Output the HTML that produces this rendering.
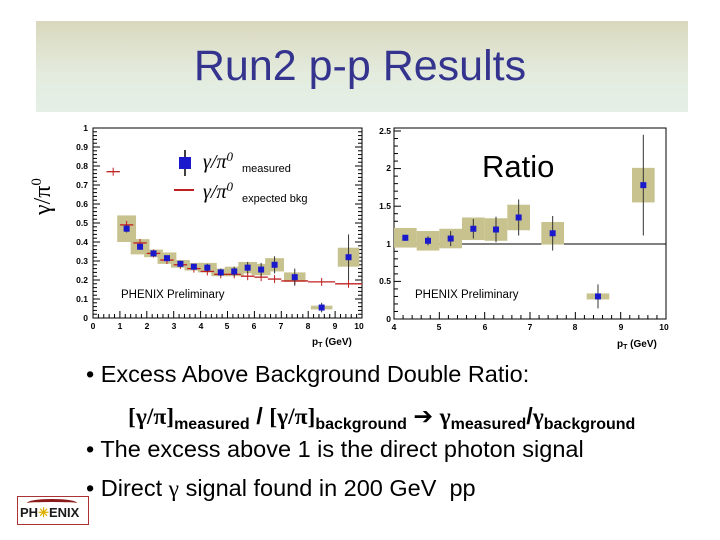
<!DOCTYPE html>
<html><head><meta charset="utf-8"><style>
body{margin:0;width:720px;height:540px;background:#fff;position:relative;overflow:hidden;font-family:"Liberation Sans",sans-serif}
.band{position:absolute;left:36px;top:21px;width:652px;height:91px;background:linear-gradient(#d9d8bd,#e4ecdf 60%,#e5efe6)}
.title{position:absolute;left:0;width:720px;top:42px;text-align:center;font-size:43px;color:#34348f}
.t{position:absolute;font-size:23.5px;line-height:27px;color:#000;white-space:nowrap}
.s{font-size:16px;font-weight:bold;vertical-align:-5px}
.g{font-family:'Liberation Serif',serif;font-weight:bold}
</style></head><body>
<div class="band"></div>
<div class="title">Run2 p-p Results</div>
<svg id="g" width="720" height="540" style="position:absolute;left:0;top:0" font-family="Liberation Sans, sans-serif">
<g font-size="8.5" font-weight="bold" text-anchor="end">
<text x="88" y="131">1</text><text x="88" y="169">0.8</text><text x="88" y="207">0.6</text><text x="88" y="245">0.4</text><text x="88" y="283">0.2</text><text x="88" y="321">0</text>
<text x="88" y="150">0.9</text><text x="88" y="188">0.7</text><text x="88" y="226">0.5</text><text x="88" y="264">0.3</text><text x="88" y="302">0.1</text>
</g>
<g font-size="8.5" font-weight="bold" text-anchor="middle">
<text x="93" y="329">0</text><text x="120" y="329">1</text><text x="147" y="329">2</text><text x="174" y="329">3</text><text x="201" y="329">4</text><text x="227" y="329">5</text><text x="254" y="329">6</text><text x="281" y="329">7</text><text x="308" y="329">8</text><text x="335" y="329">9</text><text x="359" y="329">10</text>
<text x="394" y="330">4</text><text x="439" y="330">5</text><text x="485" y="330">6</text><text x="530" y="330">7</text><text x="575" y="330">8</text><text x="621" y="330">9</text><text x="664" y="330">10</text>
</g>
<g font-size="8.5" font-weight="bold" text-anchor="end">
<text x="391" y="134">2.5</text><text x="391" y="171">2</text><text x="391" y="209">1.5</text><text x="391" y="247">1</text><text x="391" y="284">0.5</text><text x="391" y="322">0</text>
</g>
<text x="312" y="345" font-size="10" font-weight="bold">p<tspan font-size="7" dy="2">T</tspan><tspan dy="-2"> (GeV)</tspan></text>
<text x="617" y="347" font-size="10" font-weight="bold">p<tspan font-size="7" dy="2">T</tspan><tspan dy="-2"> (GeV)</tspan></text>
<text transform="translate(50,215) rotate(-90)" font-family="Liberation Serif, serif" font-size="24">γ/π<tspan font-size="15" dy="-9">0</tspan></text>
<text x="203" y="168" font-family="Liberation Serif, serif" font-style="italic" font-size="20">γ/π<tspan font-size="13" dy="-7">0</tspan></text>
<text x="242" y="172" font-size="11">measured</text>
<text x="203" y="198" font-family="Liberation Serif, serif" font-style="italic" font-size="20">γ/π<tspan font-size="13" dy="-7">0</tspan></text>
<text x="242" y="202" font-size="11">expected bkg</text>
<text x="482" y="177" font-size="31">Ratio</text>
<text x="121" y="298" font-size="11.5">PHENIX Preliminary</text>
<text x="415" y="298" font-size="11.5">PHENIX Preliminary</text>
<g id="shapes"></g>
</svg>
<div class="t" style="left:86px;top:361px">• Excess Above Background Double Ratio:</div>
<div class="t" style="left:128px;top:403px"><span class="g">[γ/π]</span><span class="s">measured</span> <b>/</b> <span class="g">[γ/π]</span><span class="s">background</span> ➔ <span class="g">γ</span><span class="s">measured</span><b>/</b><span class="g">γ</span><span class="s">background</span></div>
<div class="t" style="left:86px;top:436px">• The excess above 1 is the direct photon signal</div>
<div class="t" style="left:86px;top:475px">• Direct <span style="font-family:'Liberation Serif',serif">γ</span> signal found in 200 GeV&nbsp; pp</div>
<div style="position:absolute;left:17px;top:496px;width:70px;height:27px;border:1px solid #a33;background:#fff"></div>
<div style="position:absolute;left:27px;top:499px;width:50px;height:5px;border-top:3px solid #8b1a1a;border-radius:50% 50% 0 0"></div>
<div style="position:absolute;left:20px;top:505px;font:bold 13px 'Liberation Sans',sans-serif;color:#1a1a1a">PH<span style="color:#e0b000">✳</span>ENIX</div>
<script>
var s='';
function r(x,y,w,h,f,st){s+='<rect x="'+x+'" y="'+y+'" width="'+w+'" height="'+h+'" fill="'+f+'"'+(st?' stroke="#000" stroke-width="1"':'')+'/>';}
function l(a,b,c,d,col,w){s+='<line x1="'+a+'" y1="'+b+'" x2="'+c+'" y2="'+d+'" stroke="'+col+'" stroke-width="'+(w||1)+'"/>';}
r(93,128,269,190,'none',1);r(394,128,272,191,'none',1);
for(var i=0;i<=50;i++){var y=318-i*3.8,L=i%5==0?7:4;l(93,y,93+L,y,'#000');l(362,y,362-L,y,'#000');}
for(var i=0;i<=50;i++){var x=93+i*5.38,L=i%5==0?7:4;l(x,318,x,318-L,'#000');}
for(var i=0;i<=25;i++){var y=319-i*7.52,L=i%5==0?7:4;l(394,y,394+L,y,'#000');}
for(var i=0;i<=30;i++){var x=394+i*9.067,L=i%5==0?7:4;l(x,319,x,319-L,'#000');}
l(394,244,666,244,'#000');
function X(x){return 93+x*26.9}function Y(y){return 318-y*190}
function X2(x){return 394+(x-4)*45.33}function Y2(y){return 319-y*75.2}
var box='#c8c28e';
var m=[[1.25,.47,.07],[1.75,.375,.04],[2.25,.34,.02],[2.75,.315,.03],[3.25,.285,.02],[3.75,.27,.02],[4.25,.265,.025],[4.75,.24,.02],[5.25,.245,.025],[5.75,.265,.03],[6.25,.255,.03],[6.75,.28,.035],[7.5,.215,.025],[8.5,.055,.01],[9.5,.32,.05]];
var e=[.02,.015,.01,.01,.01,.01,.02,.02,.025,.03,.035,.045,.045,.025,.12];
m.forEach(function(d){var w=(d[0]>7?0.8:0.7)*26.9;r(X(d[0])-w/2,Y(d[1]+d[2]),w,d[2]*2*190,box);});
var b=[[.75,.77,.25],[1.25,.49,.25],[1.75,.395,.25],[2.25,.34,.25],[2.75,.305,.25],[3.25,.28,.25],[3.75,.26,.25],[4.25,.245,.25],[4.75,.23,.25],[5.25,.23,.25],[5.75,.22,.25],[6.25,.215,.25],[6.75,.205,.25],[7.5,.195,.5],[8.5,.19,.5],[9.5,.18,.5]];
b.forEach(function(d){l(X(d[0]-d[2]),Y(d[1]),X(d[0]+d[2]),Y(d[1]),'#c02020',1.3);l(X(d[0]),Y(d[1])-4,X(d[0]),Y(d[1])+4,'#c02020');});
m.forEach(function(d,i){l(X(d[0]),Y(d[1]+e[i]),X(d[0]),Y(d[1]-e[i]),'#333');r(X(d[0])-3,Y(d[1])-3,6,6,'#1a1acc');});
var q=[[4.25,1.08,.13,.04],[4.75,1.04,.13,.06],[5.25,1.07,.13,.1],[5.75,1.2,.15,.13],[6.25,1.19,.15,.17],[6.75,1.35,.17,.24],[7.5,1.14,.15,.23],[8.5,.3,.04,.16],[9.5,1.78,.23,.67]];
q.forEach(function(d){var w=0.5*45.33;r(X2(d[0])-w/2,Y2(d[1]+d[2]),w,d[2]*2*75.2,box);});
q.forEach(function(d){l(X2(d[0]),Y2(d[1]+d[3]),X2(d[0]),Y2(d[1]-d[3]),'#333');r(X2(d[0])-3,Y2(d[1])-3,6,6,'#1a1acc');});
l(185,150,185,176,'#000',1.5);r(179,157,12,12,'#1a1acc');l(174,190,194,190,'#c02020',2);
document.getElementById('shapes').innerHTML=s;
</script>
</body></html>
